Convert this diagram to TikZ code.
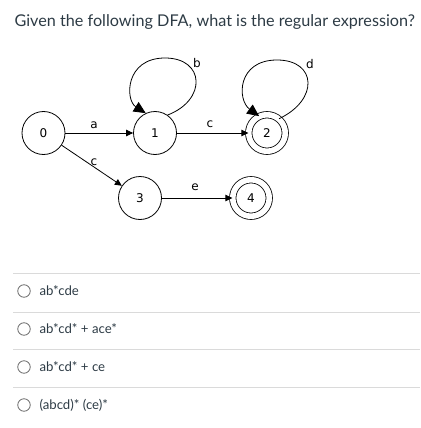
\documentclass[tikz,border=0pt]{standalone}
\usepackage{fontspec}
\setmainfont{Lato}
\newfontfamily\diagfont{DejaVu Sans}
\usetikzlibrary{arrows.meta}
\definecolor{sepgray}{RGB}{218,218,218}
\definecolor{txt}{RGB}{45,59,69}
\definecolor{radio}{RGB}{110,110,110}
\begin{document}
\begin{tikzpicture}[x=1pt,y=-1pt,
  state/.style={circle,draw,line width=0.8pt,minimum size=43pt,inner sep=0pt,font=\diagfont\fontsize{12}{14}\selectfont},
  accept/.style={state,minimum size=36.5pt,double,double distance=5.6pt},
  edge/.style={draw,line width=0.8pt,-{Triangle[length=7pt,width=6.5pt]}},
  loopedge/.style={draw,line width=0.8pt,-{Triangle[length=12pt,width=11pt]}},
  elabel/.style={font=\diagfont\fontsize{12}{14}\selectfont},
  opt/.style={anchor=west,font=\fontsize{13.2}{15}\selectfont,text=txt},
  sep/.style={draw=sepgray,line width=1pt},
  radiobtn/.style={circle,draw=radio,line width=0.8pt,minimum size=12.5pt,inner sep=0pt}]
\useasboundingbox (0,0) rectangle (420,428);
\node[anchor=west,font=\fontsize{16.2}{19}\selectfont,text=txt] (title) at (11,22) {Given the following DFA, what is the regular expression?};
\node[state] (n0) at (43.5,133) {0};
\node[state] (n1) at (155,133) {1};
\node[accept] (n2) at (267,133) {2};
\node[state] (n3) at (140,198) {3};
\node[accept] (n4) at (251,198) {4};
\draw[edge] (n0) -- (n1);
\draw[edge] (n1) -- (n2);
\draw[edge] (n0) -- (n3);
\draw[edge] (n3) -- (n4);
\draw[loopedge] (n1.55) .. controls (207,100) and (205,58) .. (165,58) .. controls (125,58) and (125,100) .. (n1.115);
\draw[loopedge] (n2.50) .. controls (319,100) and (317,60) .. (277,60) .. controls (237,60) and (237,100) .. (n2.115);
\node[elabel] (la) at (94,125) {a};
\node[elabel] (lc1) at (210,124) {c};
\node[elabel] (lc2) at (94,162) {c};
\node[elabel] (le) at (195,187) {e};
\node[elabel] (lb) at (197,63) {b};
\node[elabel] (ld) at (310,64) {d};
\coordinate (s1a) at (13,273); \coordinate (s1b) at (420,273);
\coordinate (s2a) at (13,312); \coordinate (s2b) at (420,312);
\coordinate (s3a) at (13,349); \coordinate (s3b) at (420,349);
\coordinate (s4a) at (13,387); \coordinate (s4b) at (420,387);
\draw[sep] (s1a) -- (s1b);
\draw[sep] (s2a) -- (s2b);
\draw[sep] (s3a) -- (s3b);
\draw[sep] (s4a) -- (s4b);
\node[radiobtn] (r1) at (24,291) {};
\node[radiobtn] (r2) at (24,329) {};
\node[radiobtn] (r3) at (24,367) {};
\node[radiobtn] (r4) at (24,405) {};
\node[opt] (o1) at (36,291) {ab*cde};
\node[opt] (o2) at (36,329) {ab*cd* + ace*};
\node[opt] (o3) at (36,367) {ab*cd* + ce};
\node[opt] (o4) at (36,405) {(abcd)* (ce)*};
\end{tikzpicture}
\end{document}
